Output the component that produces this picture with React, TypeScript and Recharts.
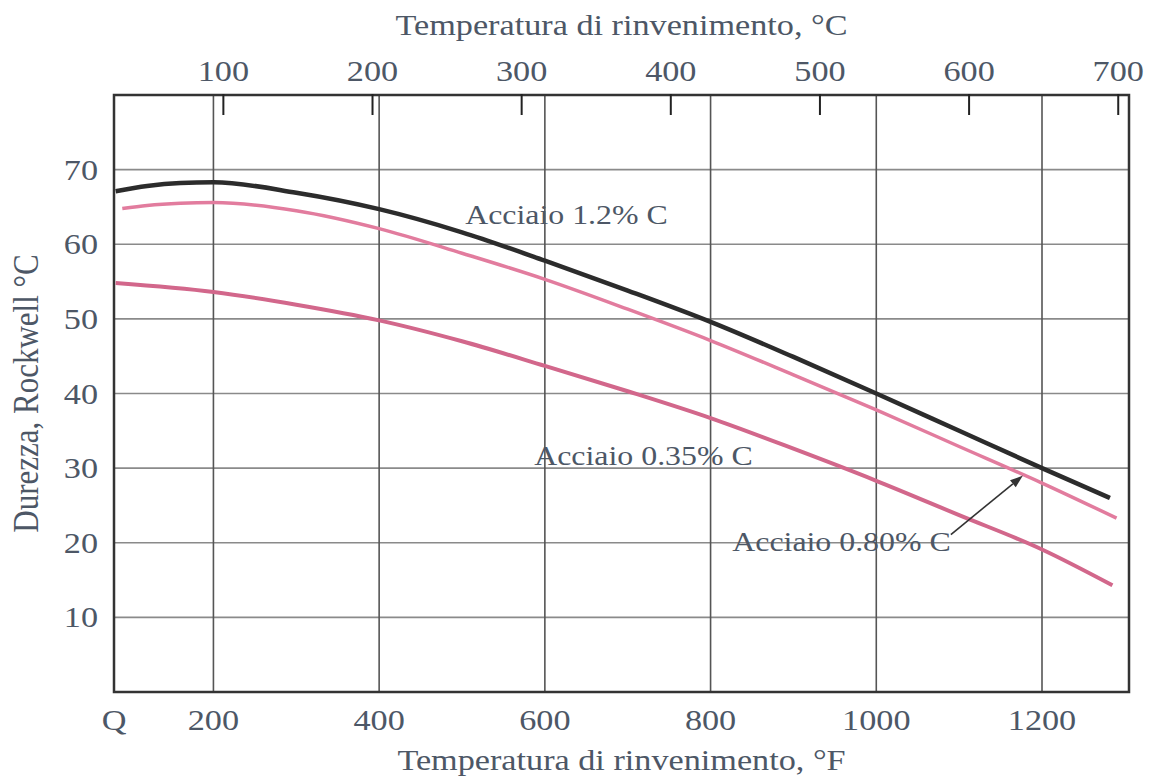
import { LineChart, Line, XAxis, YAxis, CartesianGrid, ReferenceArea, ReferenceDot, ReferenceLine, Label } from "recharts";

// Temperatura di rinvenimento in °F (asse inferiore), durezza HRC
const fahrenheitTicks = [80, 200, 400, 600, 800, 1000, 1200];
const celsiusTicks = [100, 200, 300, 400, 500, 600, 700];
const hardnessTicks = [10, 20, 30, 40, 50, 60, 70];

const temps12 = [82, 120, 160, 200, 300, 400, 500, 600, 700, 800, 900, 1000, 1100, 1200, 1282];
const hrc12 = [67.1, 67.8, 68.2, 68.3, 66.9, 64.7, 61.6, 57.8, 53.8, 49.6, 44.9, 40.0, 35.0, 30.0, 26.0];

const temps080 = [90, 120, 160, 200, 300, 400, 500, 600, 700, 800, 900, 1000, 1100, 1200, 1290];
const hrc080 = [64.8, 65.2, 65.5, 65.6, 64.5, 62.1, 58.8, 55.3, 51.3, 47.1, 42.5, 37.8, 32.9, 28.0, 23.3];

const temps035 = [82, 200, 300, 400, 500, 600, 700, 800, 900, 1000, 1100, 1200, 1285];
const hrc035 = [54.8, 53.6, 51.9, 49.8, 47.0, 43.7, 40.3, 36.7, 32.6, 28.3, 23.7, 19.1, 14.3];

const zip = (t: number[], v: number[]) => t.map((f, i) => ({ f, hrc: v[i] }));
const cToF = (c: number) => c * 1.8 + 32;
const fToC = (f: number) => Math.round((f - 32) / 1.8);

const FONT = "'Liberation Serif', 'DejaVu Serif', serif";
const INK = "#4d5766";
const SX = 1.18; // la scansione è allargata in orizzontale

if (typeof document !== "undefined") document.body.style.margin = "0";

function BottomTick({ x, y, payload }: any) {
  return (
    <text transform={`translate(${x},${y + 36}) scale(${SX},1)`} textAnchor="middle" fontFamily={FONT} fontSize={29} fill={INK}>
      {payload.value === 80 ? "Q" : payload.value}
    </text>
  );
}

function TopTick({ x, y, payload }: any) {
  return (
    <g>
      <text transform={`translate(${x},${y - 12}) scale(${SX},1)`} textAnchor="middle" fontFamily={FONT} fontSize={29} fill={INK}>
        {fToC(payload.value)}
      </text>
      <line x1={x} x2={x} y1={y + 1} y2={y + 22} stroke="#222" strokeWidth={2} />
    </g>
  );
}

function LeftTick({ x, y, payload }: any) {
  return (
    <text transform={`translate(${x - 14},${y + 10}) scale(${SX},1)`} textAnchor="end" fontFamily={FONT} fontSize={29} fill={INK}>
      {payload.value}
    </text>
  );
}

function note(text: string) {
  return ({ viewBox }: any) => {
    const cx = viewBox.x + viewBox.width / 2;
    const cy = viewBox.y + viewBox.height / 2;
    return (
      <text transform={`translate(${cx},${cy + 10}) scale(${SX},1)`} textAnchor="middle" fontFamily={FONT} fontSize={27} fill={INK}>
        {text}
      </text>
    );
  };
}

function Arrow({ x1, y1, x2, y2 }: any) {
  const a = Math.atan2(y2 - y1, x2 - x1);
  const L = 13;
  const W = 4.5;
  const bx = x2 - L * Math.cos(a);
  const by = y2 - L * Math.sin(a);
  const px = -Math.sin(a) * W;
  const py = Math.cos(a) * W;
  return (
    <g>
      <line x1={x1} y1={y1} x2={bx} y2={by} stroke="#333" strokeWidth={1.6} />
      <polygon points={`${x2},${y2} ${bx + px},${by + py} ${bx - px},${by - py}`} fill="#333" />
    </g>
  );
}

export default function App() {
  return (
    <div style={{ width: 1153, height: 782, background: "#fff" }}>
      <LineChart width={1153} height={782} data={zip(temps12, hrc12)} margin={{ top: 0, right: 24, bottom: 0, left: 0 }}>
        <CartesianGrid vertical={false} stroke="#8a8a8a" strokeWidth={1.6} />
        <CartesianGrid horizontal={false} stroke="#555" strokeWidth={1.6} />
        <XAxis
          dataKey="f"
          type="number"
          domain={[80, 1305]}
          ticks={fahrenheitTicks}
          allowDataOverflow
          height={90}
          tickSize={0}
          tickLine={false}
          axisLine={false}
          tick={<BottomTick />}
          interval={0}
        >
          <Label
            content={({ viewBox }: any) => (
              <text transform={`translate(${viewBox.x + viewBox.width / 2},${viewBox.y + 78}) scale(${SX},1)`} textAnchor="middle" fontFamily={FONT} fontSize={29} fill={INK}>
                Temperatura di rinvenimento, °F
              </text>
            )}
          />
        </XAxis>
        <XAxis
          xAxisId="top"
          dataKey="f"
          orientation="top"
          type="number"
          domain={[80, 1305]}
          ticks={celsiusTicks.map(cToF)}
          allowDataOverflow
          height={95}
          tickSize={0}
          tickLine={false}
          axisLine={false}
          tick={<TopTick />}
          interval={0}
        >
          <Label
            content={({ viewBox }: any) => (
              <text transform={`translate(${viewBox.x + viewBox.width / 2},${viewBox.y + 35}) scale(${SX},1)`} textAnchor="middle" fontFamily={FONT} fontSize={29} fill={INK}>
                Temperatura di rinvenimento, °C
              </text>
            )}
          />
        </XAxis>
        <YAxis
          type="number"
          domain={[0, 80]}
          ticks={hardnessTicks}
          width={114}
          tickSize={0}
          tickLine={false}
          axisLine={false}
          tick={<LeftTick />}
          interval={0}
        >
          <Label
            content={({ viewBox }: any) => (
              <text transform={`translate(38,${viewBox.y + viewBox.height / 2}) scale(${SX},1) rotate(-90)`} textAnchor="middle" fontFamily={FONT} fontSize={31} fill={INK}>
                Durezza, Rockwell °C
              </text>
            )}
          />
        </YAxis>
        <ReferenceArea x1={80} x2={1305} y1={0} y2={80} fill="none" stroke="#333" strokeWidth={2.5} ifOverflow="visible" />
        <Line xAxisId="top" dataKey="hrc" stroke="none" dot={false} activeDot={false} legendType="none" isAnimationActive={false} />
        <Line data={zip(temps035, hrc035)} dataKey="hrc" type="monotone" stroke="#d2678b" strokeWidth={4} dot={false} isAnimationActive={false} />
        <Line data={zip(temps080, hrc080)} dataKey="hrc" type="monotone" stroke="#e27c9e" strokeWidth={3.5} dot={false} isAnimationActive={false} />
        <Line data={zip(temps12, hrc12)} dataKey="hrc" type="monotone" stroke="#2c2c2c" strokeWidth={4.5} dot={false} isAnimationActive={false} />
        <ReferenceDot x={626} y={64} r={1} fill="none" stroke="none">
          <Label content={note("Acciaio 1.2% C")} />
        </ReferenceDot>
        <ReferenceDot x={719} y={31.7} r={1} fill="none" stroke="none">
          <Label content={note("Acciaio 0.35% C")} />
        </ReferenceDot>
        <ReferenceDot x={958} y={20.2} r={1} fill="none" stroke="none">
          <Label content={note("Acciaio 0.80% C")} />
        </ReferenceDot>
        <ReferenceLine segment={[{ x: 1090, y: 21.1 }, { x: 1177, y: 29 }]} shape={<Arrow />} ifOverflow="visible" />
      </LineChart>
    </div>
  );
}
